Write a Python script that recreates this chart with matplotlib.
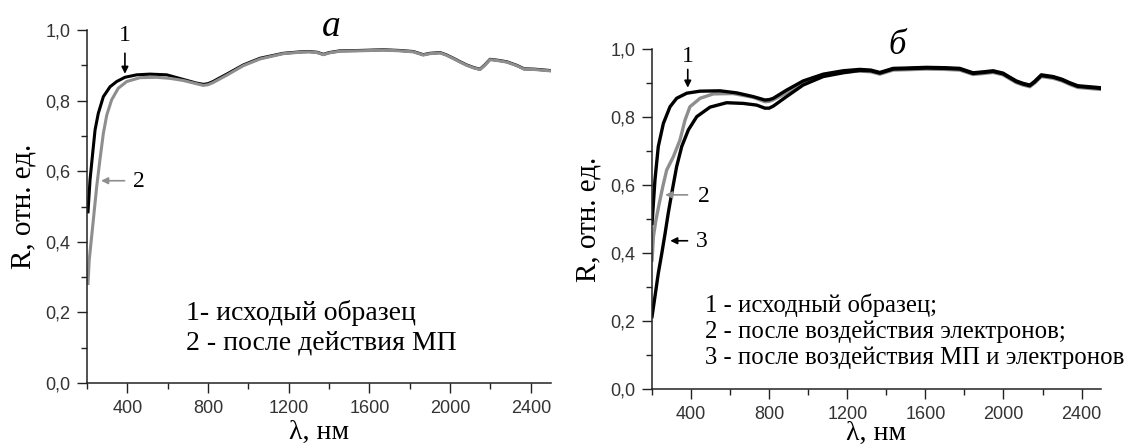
import matplotlib
matplotlib.use("Agg")
import matplotlib.pyplot as plt
from matplotlib.ticker import MultipleLocator, FuncFormatter

# panel a: curve 1 (initial sample), curve 2 (after magnetic field)
wl_a1 = [205, 215, 228, 240, 256, 281, 314, 347, 388, 446, 512, 595, 677, 740, 777, 800,
         825, 860, 893, 975, 1058, 1173, 1256, 1300, 1340, 1372, 1400, 1454, 1550, 1669,
         1750, 1818, 1867, 1900, 1950, 1980, 2016, 2050, 2082, 2120, 2148, 2170, 2198,
         2240, 2281, 2330, 2367, 2420, 2460, 2500]
r_a1 = [0.485, 0.575, 0.650, 0.717, 0.764, 0.811, 0.839, 0.854, 0.866, 0.873, 0.875, 0.873,
        0.860, 0.850, 0.846, 0.848, 0.854, 0.865, 0.875, 0.901, 0.920, 0.934, 0.938, 0.939,
        0.937, 0.931, 0.936, 0.941, 0.942, 0.944, 0.942, 0.939, 0.930, 0.934, 0.936, 0.930,
        0.920, 0.910, 0.901, 0.893, 0.889, 0.900, 0.917, 0.914, 0.910, 0.900, 0.890, 0.889,
        0.887, 0.885]

wl_a2 = [205, 211, 228, 248, 264, 281, 298, 322, 355, 397, 463, 545, 611, 677, 777, 800,
         825, 893, 975, 1058, 1173, 1256, 1300, 1340, 1372, 1400, 1454, 1550, 1669, 1750,
         1818, 1867, 1900, 1950, 1980, 2016, 2050, 2082, 2120, 2148, 2170, 2198, 2240,
         2281, 2330, 2367, 2420, 2460, 2500]
r_a2 = [0.282, 0.348, 0.443, 0.556, 0.632, 0.707, 0.759, 0.802, 0.835, 0.854, 0.865, 0.866,
        0.863, 0.857, 0.843, 0.845, 0.851, 0.872, 0.899, 0.918, 0.933, 0.937, 0.938, 0.936,
        0.930, 0.935, 0.940, 0.941, 0.943, 0.941, 0.938, 0.929, 0.933, 0.935, 0.929, 0.919,
        0.909, 0.900, 0.892, 0.888, 0.899, 0.916, 0.913, 0.909, 0.899, 0.889, 0.888, 0.886,
        0.884]

# panel b: 1 initial, 2 after electrons, 3 after magnetic field and electrons
wl_b1 = [200, 215, 232, 258, 292, 326, 378, 446, 548, 633, 718, 778, 800, 821, 889, 974,
         1077, 1179, 1264, 1320, 1367, 1435, 1500, 1606, 1700, 1776, 1844, 1900, 1947,
         1998, 2030, 2066, 2100, 2135, 2160, 2194, 2254, 2300, 2339, 2380, 2420, 2460, 2500]
r_b1 = [0.487, 0.615, 0.713, 0.781, 0.830, 0.855, 0.870, 0.876, 0.877, 0.871, 0.860, 0.850,
        0.851, 0.855, 0.879, 0.906, 0.926, 0.936, 0.940, 0.938, 0.931, 0.943, 0.944, 0.946,
        0.945, 0.943, 0.930, 0.933, 0.936, 0.929, 0.918, 0.906, 0.899, 0.894, 0.905, 0.924,
        0.919, 0.911, 0.901, 0.892, 0.890, 0.888, 0.886]

wl_b2 = [200, 207, 220, 237, 255, 275, 309, 343, 369, 394, 446, 514, 616, 718, 778, 800,
         819, 890, 973, 1077, 1179, 1264, 1320, 1367, 1435, 1500, 1606, 1700, 1776, 1844,
         1900, 1947, 1998, 2030, 2066, 2100, 2135, 2160, 2194, 2254, 2300, 2339, 2380,
         2420, 2460, 2500]
r_b2 = [0.379, 0.448, 0.497, 0.546, 0.595, 0.644, 0.683, 0.732, 0.791, 0.830, 0.855, 0.868,
        0.869, 0.858, 0.845, 0.846, 0.850, 0.871, 0.901, 0.922, 0.932, 0.935, 0.933, 0.926,
        0.938, 0.939, 0.941, 0.940, 0.938, 0.925, 0.928, 0.931, 0.924, 0.913, 0.901, 0.894,
        0.889, 0.900, 0.919, 0.914, 0.906, 0.896, 0.887, 0.885, 0.883, 0.881]

wl_b3 = [200, 215, 232, 250, 267, 283, 301, 326, 352, 386, 429, 497, 582, 667, 736, 778,
         800, 821, 889, 974, 1077, 1179, 1264, 1320, 1367, 1435, 1500, 1606, 1700, 1776,
         1844, 1900, 1947, 1998, 2030, 2066, 2100, 2135, 2160, 2194, 2254, 2300, 2339,
         2380, 2420, 2460, 2500]
r_b3 = [0.213, 0.272, 0.340, 0.399, 0.458, 0.517, 0.576, 0.654, 0.713, 0.762, 0.801, 0.829,
        0.842, 0.840, 0.835, 0.826, 0.826, 0.832, 0.860, 0.894, 0.919, 0.930, 0.937, 0.936,
        0.929, 0.941, 0.942, 0.944, 0.943, 0.941, 0.928, 0.931, 0.934, 0.927, 0.916, 0.904,
        0.897, 0.892, 0.903, 0.922, 0.917, 0.909, 0.899, 0.890, 0.888, 0.886, 0.884]

legend_a = ["1- исходый образец", "2 - после действия МП"]
legend_b = ["1 - исходный образец;", "2 - после воздействия электронов;",
            "3 - после воздействия МП и электронов"]

GRAY = "#8e8e8e"
SERIF = "Liberation Serif"
SANS = "Liberation Sans"

fig = plt.figure(figsize=(11.24, 4.45), dpi=100)
ax_a = fig.add_axes([0.0774, 0.1393, 0.4128, 0.7933])
ax_b = fig.add_axes([0.5801, 0.1258, 0.3995, 0.7641])


def style_axes(ax, xmin, xpad):
    ax.set_xlim(xmin, 2500)
    ax.set_ylim(0, 1.0)
    for side in ("top", "right"):
        ax.spines[side].set_visible(False)
    for side in ("left", "bottom"):
        ax.spines[side].set_linewidth(1.1)
        ax.spines[side].set_color("#222222")
    ax.xaxis.set_minor_locator(MultipleLocator(200))
    ax.yaxis.set_major_locator(MultipleLocator(0.2))
    ax.yaxis.set_minor_locator(MultipleLocator(0.1))
    ax.set_xticks([400, 800, 1200, 1600, 2000, 2400])
    ax.yaxis.set_major_formatter(FuncFormatter(lambda v, p: f"{v:.1f}".replace(".", ",")))
    ax.tick_params(which="major", direction="out", length=7, width=1, color="#222222",
                   labelsize=13, labelcolor="#333333", pad=5)
    ax.tick_params(which="minor", direction="out", length=4, width=1, color="#222222")
    for lab in ax.get_xticklabels() + ax.get_yticklabels():
        lab.set_family(SANS)
    ax.set_xlabel("λ, нм", family=SERIF, fontsize=20, labelpad=xpad)
    ax.set_ylabel("R, отн. ед.", family=SERIF, fontsize=21, labelpad=6)


style_axes(ax_a, 200, 2)
style_axes(ax_b, 200, -1)

# panel a
ax_a.plot(wl_a1, r_a1, color="black", lw=2.2)
ax_a.plot(wl_a2, r_a2, color=GRAY, lw=2.2)
ax_a.text(1410, 1.01, "a", family=SERIF, style="italic", fontsize=27, ha="center", va="center")
ax_a.text(388, 0.985, "1", family=SERIF, fontsize=17, ha="center", va="center")
ax_a.annotate("", xy=(388, 0.868), xytext=(388, 0.942),
              arrowprops=dict(arrowstyle="-|>", color="black", lw=1.2, mutation_scale=10))
ax_a.annotate("", xy=(256, 0.573), xytext=(400, 0.573),
              arrowprops=dict(arrowstyle="-|>", color=GRAY, lw=1.2, mutation_scale=10))
ax_a.text(458, 0.570, "2", family=SERIF, fontsize=17, ha="center", va="center")
for i, line in enumerate(legend_a):
    ax_a.text(691, 0.178 - i * 0.082, line, family=SERIF, fontsize=20, ha="left",
              va="baseline")

# panel b
ax_b.plot(wl_b2, r_b2, color=GRAY, lw=2.4)
ax_b.plot(wl_b3, r_b3, color="black", lw=2.4)
ax_b.plot(wl_b1, r_b1, color="black", lw=2.4)
ax_b.text(1457, 1.01, "б", family=SERIF, style="italic", fontsize=25, ha="center", va="center")
ax_b.text(383, 0.978, "1", family=SERIF, fontsize=17, ha="center", va="center")
ax_b.annotate("", xy=(383, 0.878), xytext=(383, 0.948),
              arrowprops=dict(arrowstyle="-|>", color="black", lw=1.2, mutation_scale=10))
ax_b.annotate("", xy=(253, 0.571), xytext=(396, 0.571),
              arrowprops=dict(arrowstyle="-|>", color=GRAY, lw=1.2, mutation_scale=10))
ax_b.text(466, 0.566, "2", family=SERIF, fontsize=17, ha="center", va="center")
ax_b.annotate("", xy=(279, 0.436), xytext=(396, 0.436),
              arrowprops=dict(arrowstyle="-|>", color="black", lw=1.2, mutation_scale=10))
ax_b.text(453, 0.433, "3", family=SERIF, fontsize=17, ha="center", va="center")
for i, line in enumerate(legend_b):
    ax_b.text(471, 0.227 - i * 0.076, line, family=SERIF, fontsize=17.8, ha="left",
              va="baseline")

fig.savefig("out.png", dpi=100)
